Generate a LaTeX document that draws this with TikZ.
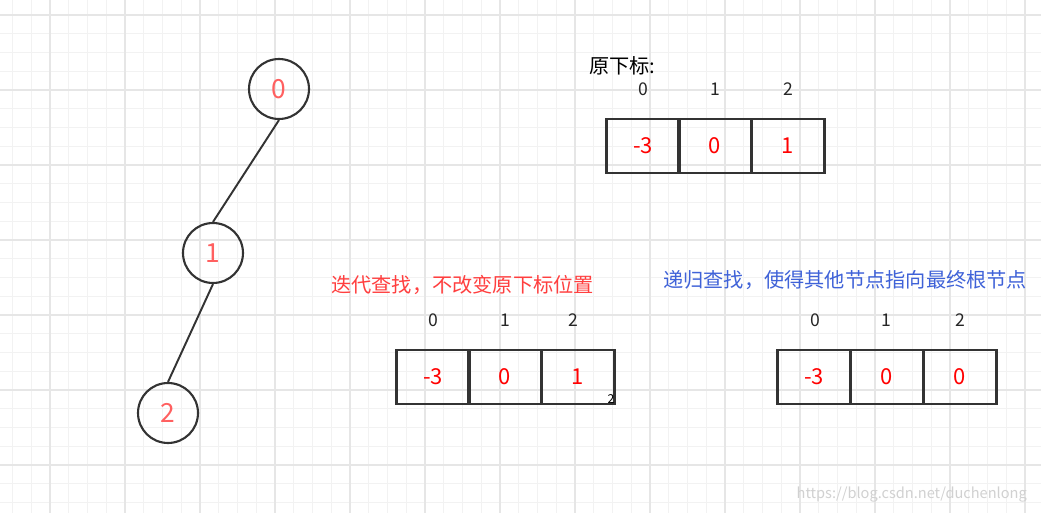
\documentclass[tikz,border=0pt]{standalone}
\usepackage{fontspec}
\setmainfont{Noto Sans CJK SC}
\usetikzlibrary{positioning}
\definecolor{gridminor}{HTML}{F2F2F2}
\definecolor{gridmajor}{HTML}{E6E6E6}
\definecolor{treered}{HTML}{FF6060}
\definecolor{notered}{HTML}{FF3F3F}
\definecolor{noteblue}{HTML}{3F62D8}
\definecolor{linegray}{HTML}{333333}
\tikzset{
    treenode/.style={draw=linegray,line width=1.2pt,circle,minimum size=1.2cm,inner sep=0pt,
        text=treered,font=\fontsize{15pt}{15pt}\selectfont},
    cell/.style={draw=linegray,line width=1.6pt,rectangle,minimum width=1.45cm,minimum height=1.08cm,
        inner sep=0pt,text=red,font=\fontsize{12.5pt}{12.5pt}\selectfont},
    idx/.style={font=\fontsize{10pt}{10pt}\selectfont,text=black!85},
    note/.style={font=\fontsize{11.5pt}{11.5pt}\selectfont,inner sep=0pt}
}
\begin{document}
\begin{tikzpicture}[x=0.02cm,y=-0.02cm]
    \useasboundingbox (0,0) rectangle (1041,513);
    \fill[white] (0,0) rectangle (1041,513);

    % grid
    \foreach \i in {0,...,55}
        \draw[gridminor,line width=0.6pt] ({12.5+18.75*\i},0) -- ({12.5+18.75*\i},513);
    \foreach \j in {0,...,27}
        \draw[gridminor,line width=0.6pt] (0,{-3.75+18.75*\j}) -- (1041,{-3.75+18.75*\j});
    \foreach \i in {0,...,13}
        \draw[gridmajor,line width=0.6pt] ({50+75*\i},0) -- ({50+75*\i},513);
    \foreach \j in {0,...,6}
        \draw[gridmajor,line width=0.6pt] (0,{15+75*\j}) -- (1041,{15+75*\j});

    % tree
    \node[treenode] (n0) at (279,89) {0};
    \node[treenode] (n1) at (213,253) {1};
    \node[treenode] (n2) at (168,413) {2};
    \draw[linegray,line width=1.1pt] (n0.south) -- (n1.north);
    \draw[linegray,line width=1.1pt] (n1.south) -- (n2.north);

    % original indices
    \node[note,anchor=west] (title) at (589,66) {原下标:};
    \node[cell] (a0) at (643,146) {-3};
    \node[cell] (a1) at (715,146) {0};
    \node[cell] (a2) at (788,146) {1};
    \node[idx] at (643,89) {0};
    \node[idx] at (715,89) {1};
    \node[idx] at (788,89) {2};

    % iterative find
    \node[note,anchor=west,text=notered] (iter) at (331,285) {迭代查找，不改变原下标位置};
    \node[cell] (b0) at (433,377) {-3};
    \node[cell] (b1) at (505,377) {0};
    \node[cell] (b2) at (578,377) {1};
    \node[idx] at (433,320) {0};
    \node[idx] at (505,320) {1};
    \node[idx] at (573,320) {2};
    \node[font=\fontsize{7pt}{7pt}\selectfont,inner sep=0pt] at (611,399) {2};

    % recursive find
    \node[note,anchor=west,text=noteblue] (rec) at (663,280) {递归查找，使得其他节点指向最终根节点};
    \node[cell] (c0) at (814,377) {-3};
    \node[cell] (c1) at (887,377) {0};
    \node[cell] (c2) at (960,377) {0};
    \node[idx] at (815,320) {0};
    \node[idx] at (886,320) {1};
    \node[idx] at (960,320) {2};

    % watermark
    \node[anchor=east,text=black!18,font=\fontsize{8.3pt}{8.3pt}\selectfont] at (1033,495) {https://blog.csdn.net/duchenlong};
\end{tikzpicture}
\end{document}
